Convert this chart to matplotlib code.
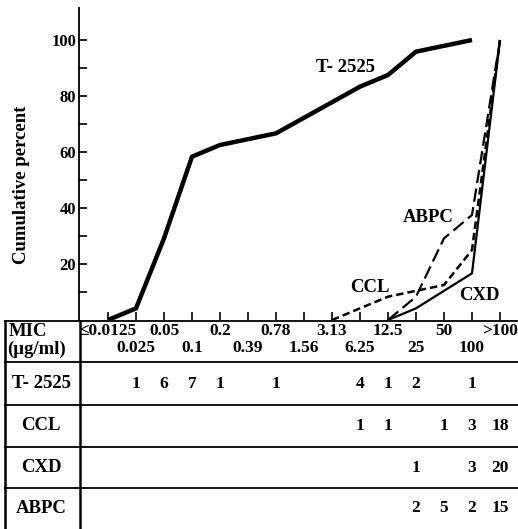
import numpy as np
import matplotlib.pyplot as plt

# MIC categories (ug/ml)
mic_labels = ['≤0.0125', '0.025', '0.05', '0.1', '0.2', '0.39', '0.78', '1.56',
              '3.13', '6.25', '12.5', '25', '50', '100', '>100']

# number of strains at each MIC (0 = blank cell)
drugs = ['T-2525', 'CCL', 'CXD', 'ABPC']
t2525 = [0, 1, 6, 7, 1, 0, 1, 0, 0, 4, 1, 2, 0, 1, 0]
ccl = [0, 0, 0, 0, 0, 0, 0, 0, 0, 1, 1, 0, 1, 3, 18]
cxd = [0, 0, 0, 0, 0, 0, 0, 0, 0, 0, 0, 1, 0, 3, 20]
abpc = [0, 0, 0, 0, 0, 0, 0, 0, 0, 0, 0, 2, 5, 2, 15]
counts = {'T-2525': t2525, 'CCL': ccl, 'CXD': cxd, 'ABPC': abpc}

styles = {
    'T-2525': dict(linestyle='-', linewidth=3.2),
    'CCL': dict(linestyle=(0, (3, 1.6)), linewidth=1.8),
    'CXD': dict(linestyle='-', linewidth=1.6),
    'ABPC': dict(linestyle=(0, (6, 2.5)), linewidth=1.6),
}

FONT = 'Liberation Serif'
W, H = 518, 529
fig = plt.figure(figsize=(W / 100, H / 100), dpi=100)


def px_x(p):
    # pixel column -> category index
    return (p - 108) / 28.0


# ---- chart area ----
y0, ytop = 320, 8
ax = fig.add_axes([79 / W, 1 - y0 / H, 1 - 79 / W, (y0 - ytop) / H])
ax.set_xlim(px_x(79), px_x(W))
ax.set_ylim(0, (y0 - ytop) / 2.8)

for name in drugs:
    c = np.array(counts[name])
    cum = np.cumsum(c) / c.sum() * 100
    nz = np.nonzero(c)[0]
    xs = [nz[0] - 1] + list(nz)
    ys = [0] + list(cum[nz])
    ax.plot(xs, ys, color='black', solid_capstyle='butt', **styles[name])

for s in ['top', 'right', 'bottom']:
    ax.spines[s].set_visible(False)
ax.spines['left'].set_linewidth(1.3)

ax.set_xticks(range(len(mic_labels)))
ax.set_xticklabels([])
ax.tick_params(axis='x', direction='in', length=6, width=1.2, bottom=True)
ax.set_yticks([20, 40, 60, 80, 100])
ax.set_yticks([10, 30, 50, 70, 90], minor=True)
ax.tick_params(axis='y', which='both', direction='in', length=5.5, width=1.2, pad=2)
for lab in ax.get_yticklabels():
    lab.set_fontfamily(FONT)
    lab.set_fontweight('bold')
    lab.set_fontsize(12)

fig.text(22 / W, 1 - 185 / H, 'Cumulative percent', rotation=90, ha='center',
         va='center', fontfamily=FONT, fontweight='bold', fontsize=13.5)

label_pos = {'T-2525': (346, 67), 'ABPC': (428, 218), 'CCL': (370, 287), 'CXD': (479, 295)}
for name, (px, py) in label_pos.items():
    fig.text(px / W, 1 - py / H, name.replace('-', '- '), ha='center', va='center',
             fontfamily=FONT, fontweight='bold', fontsize=13.5)

# ---- table ----
tb = fig.add_axes([0, 0, 1, 1 - 320 / H])
tb.set_xlim(px_x(0), px_x(W))
tb.set_ylim(H, 320)
tb.axis('off')

rows = [321, 362, 405, 447, 488, H]
for yy in rows[:-1]:
    tb.plot([px_x(5), px_x(W)], [yy, yy], color='black', lw=1.3, clip_on=False)
tb.plot([px_x(5), px_x(5)], [321, H], color='black', lw=1.8, clip_on=False)
tb.plot([px_x(80), px_x(80)], [321, H], color='black', lw=1.8, clip_on=False)

tkw = dict(fontfamily=FONT, fontweight='bold', fontsize=12.5, color='black')
tb.text(px_x(9), 331, 'MIC', ha='left', va='center', fontsize=13.5,
        **{k: v for k, v in tkw.items() if k != 'fontsize'})
tb.text(px_x(7), 349, '(μg/ml)', ha='left', va='center', fontsize=13.5,
        **{k: v for k, v in tkw.items() if k != 'fontsize'})

for i, lab in enumerate(mic_labels):
    yy = 331 if i % 2 == 0 else 348
    tb.text(i, yy, lab, ha='center', va='center', **tkw)

for r, name in enumerate(drugs):
    yc = (rows[r + 1] + rows[r + 2]) / 2
    tb.text(px_x(41), yc, name.replace('-', '- '), ha='center', va='center',
            fontsize=13.5, **{k: v for k, v in tkw.items() if k != 'fontsize'})
    for i, v in enumerate(counts[name]):
        if v:
            tb.text(i, yc, str(v), ha='center', va='center', **tkw)

fig.savefig('out.png', dpi=100)
